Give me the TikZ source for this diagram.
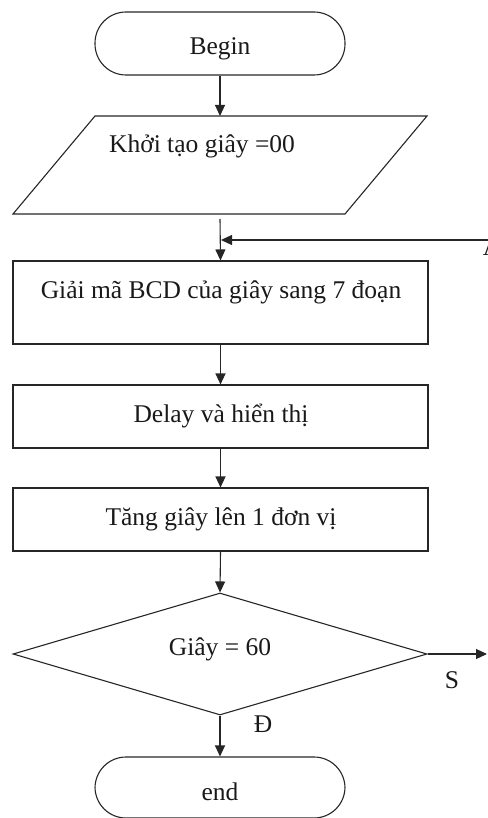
\documentclass[tikz,border=0pt]{standalone}
\usepackage{fontspec}
\setmainfont{Liberation Serif}
\usetikzlibrary{arrows.meta,shapes.geometric}
\begin{document}
\begin{tikzpicture}[x=1pt,y=-1pt,line width=1.1pt,
  outline/.style={draw=black!85},
  flow/.style={draw=black!85,-{Triangle[length=11pt,width=10pt]}},
  term/.style={outline,rectangle,rounded corners=31pt,minimum width=250pt,minimum height=63pt,inner sep=0pt},
  proc/.style={outline,rectangle,minimum width=415pt,inner sep=0pt},
  txt/.style={anchor=base,inner sep=0pt,font=\fontsize{25.5}{30}\selectfont,text=black!90},
]
\useasboundingbox (0,0) rectangle (487,818);

% start terminator
\node[term] (begin) at (220,43.5) {};
\node[txt] (tbegin) at (220,55) {Begin};

% input parallelogram
\draw[outline] (95,116) -- (427,116) -- (345,214) -- (13,214) -- cycle;
\coordinate (initTop) at (220,116);
\coordinate (initBot) at (220,219);
\node[txt] (tinit) at (202,153) {Khởi tạo giây =00};

% processing boxes
\node[proc,minimum height=83pt] (decode) at (220.5,302.5) {};
\node[txt] (tdecode) at (221,298) {Giải mã BCD của giây sang 7 đoạn};

\node[proc,minimum height=63pt] (show) at (220.5,416.5) {};
\node[txt] (tshow) at (221,422) {Delay và hiển thị};

\node[proc,minimum height=63pt] (incr) at (220.5,519.5) {};
\node[txt] (tincr) at (221,525) {Tăng giây lên 1 đơn vị};

% decision
\node[outline,diamond,minimum width=414pt,minimum height=122pt,inner sep=0pt] (check) at (220,654) {};
\node[txt] (tcheck) at (220,655) {Giây = 60};

% end terminator
\node[term,minimum height=61pt] (stop) at (220,787.5) {};
\node[txt] (tstop) at (220,800) {end};

% connectors
\draw[flow] (begin.south) -- (initTop);
\draw[flow] (initBot) -- (decode.north);
\coordinate (loopIn) at (490,240);
\coordinate (join) at (221,240);
\draw[flow] (loopIn) -- (join);
\node[txt] (tA) at (492,255) {A};
\draw[flow] (decode.south) -- (show.north);
\draw[flow] (show.south) -- (incr.north);
\draw[flow] (incr.south) -- (check.north);
\coordinate (exitS) at (487,654);
\draw[flow] (check.east) -- (exitS);
\node[txt] (tS) at (452,688) {S};
\draw[flow] (check.south) -- (stop.north);
\node[txt] (tD) at (263,732) {Đ};
\end{tikzpicture}
\end{document}
